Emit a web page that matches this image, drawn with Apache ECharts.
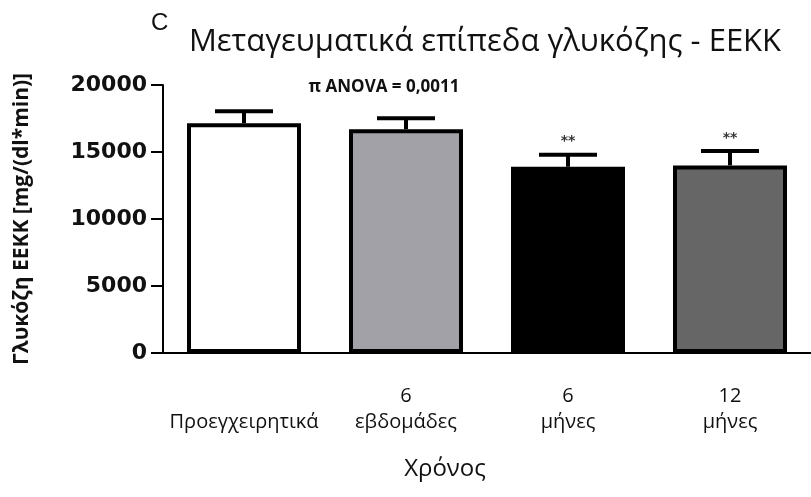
<!DOCTYPE html>
<html>
<head>
<meta charset="utf-8">
<script src="https://cdn.jsdelivr.net/npm/echarts@6/dist/echarts.min.js"></script>
<style>
  html, body { margin: 0; padding: 0; background: #fff; }
  #main { width: 811px; height: 497px; }
</style>
</head>
<body>
<div id="main"></div>
<script>
// δεδομένα του γραφήματος
var categories = ['\nΠροεγχειρητικά', '6\nεβδομάδες', '6\nμήνες', '12\nμήνες'];
var means = [17150, 16700, 13900, 14000];
var sem = [900, 820, 900, 1080];
var marks = ['', '', '**', '**'];
var barColors = ['#ffffff', '#a1a1a7', '#000000', '#666666'];
var yTicks = [0, 5000, 10000, 15000, 20000];

var font = '"Open Sans", "Noto Sans", sans-serif';

var chart = echarts.init(document.getElementById('main'));

var errData = means.map(function (m, i) { return [i, m, m + sem[i], marks[i]]; });

var option = {
  backgroundColor: '#fff',
  animation: false,
  title: [{
    text: 'Μεταγευματικά επίπεδα γλυκόζης - ΕΕΚΚ',
    left: 480, top: 22, textAlign: 'center',
    textStyle: { fontFamily: font, fontSize: 31, fontWeight: 'normal', color: '#111' }
  }, {
    text: 'C',
    left: 146, top: 6,
    textStyle: { fontFamily: '"Liberation Sans", Arial, sans-serif', fontSize: 24, fontWeight: 'normal', color: '#111' }
  }, {
    text: 'π ANOVA = 0,0011',
    left: 379, top: 74, textAlign: 'center',
    textStyle: { fontFamily: font, fontSize: 17, fontWeight: 'bold', color: '#111' }
  }],
  grid: { left: 163, right: -4, top: 85, bottom: 144 },
  xAxis: {
    type: 'category',
    data: categories,
    name: 'Χρόνος',
    nameLocation: 'middle',
    nameGap: 104,
    nameTextStyle: { fontFamily: font, fontSize: 24, color: '#111', padding: [0, 84, 0, 0] },
    axisLine: { lineStyle: { color: '#000', width: 2 } },
    axisTick: { alignWithLabel: true, length: 8, lineStyle: { color: '#000', width: 2 } },
    axisLabel: { interval: 0, fontFamily: font, fontSize: 20, color: '#111', lineHeight: 26, margin: 30 }
  },
  yAxis: {
    type: 'value',
    min: 0, max: 20000, interval: 5000,
    name: 'Γλυκόζη ΕΕΚΚ [mg/(dl*min)]',
    nameLocation: 'middle',
    nameGap: 130,
    nameRotate: 90,
    nameTextStyle: { fontFamily: font, fontSize: 21, fontWeight: 'bold', color: '#111' },
    splitLine: { show: false },
    axisLine: { show: true, lineStyle: { color: '#000', width: 2 } },
    axisTick: { show: true, length: 12, lineStyle: { color: '#000', width: 2 } },
    axisLabel: {
      fontFamily: '"DejaVu Sans", sans-serif', fontSize: 22, fontWeight: 'bold', color: '#111', margin: 16,
      formatter: function (v) { return yTicks.indexOf(v) >= 0 ? String(v) : ''; }
    }
  },
  series: [{
    type: 'bar',
    data: means.map(function (m, i) {
      return { value: m, itemStyle: { color: barColors[i] } };
    }),
    barWidth: 114,
    itemStyle: { borderColor: '#000', borderWidth: 4 },
    z: 2
  }, {
    type: 'custom',
    data: errData,
    z: 1,
    renderItem: function (params, api) {
      var x = api.value(0);
      var lo = api.coord([x, api.value(1)]);
      var hi = api.coord([x, api.value(2)]);
      var half = 29;
      return {
        type: 'group',
        children: [{
          type: 'line',
          shape: { x1: lo[0], y1: lo[1], x2: hi[0], y2: hi[1] },
          style: { stroke: '#000', lineWidth: 4 }
        }, {
          type: 'line',
          shape: { x1: hi[0] - half, y1: hi[1], x2: hi[0] + half, y2: hi[1] },
          style: { stroke: '#000', lineWidth: 4 }
        }, {
          type: 'text',
          style: {
            text: api.value(3), x: hi[0], y: hi[1] - 6,
            align: 'center', verticalAlign: 'bottom',
            font: 'bold 14px "DejaVu Sans", sans-serif', fill: '#333'
          }
        }]
      };
    }
  }]
};

chart.setOption(option);
</script>
</body>
</html>
